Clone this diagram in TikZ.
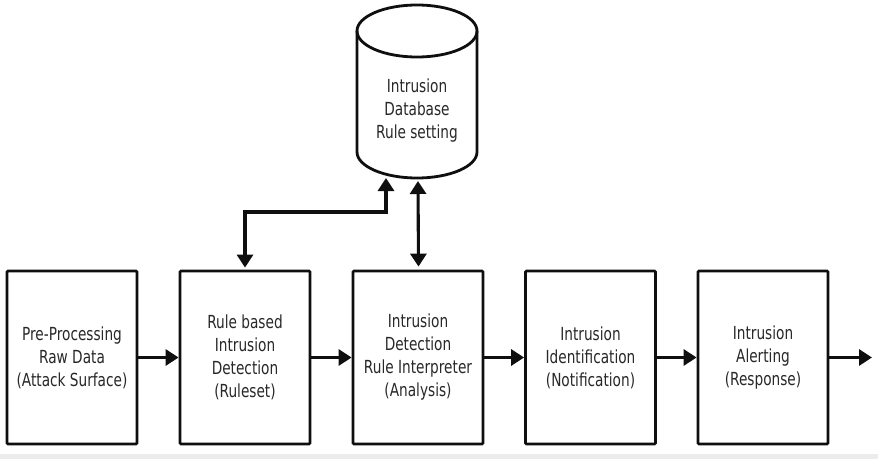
\documentclass[tikz,border=0pt]{standalone}
\usepackage{fontspec}
\setmainfont{DejaVu Sans}[FakeStretch=0.76]
\usetikzlibrary{arrows.meta}
\definecolor{inkline}{RGB}{15,15,15}
\definecolor{inktext}{RGB}{40,40,40}
\definecolor{footband}{RGB}{236,236,236}
\tikzset{
  stage/.style={draw=inkline, line width=2.8pt, rounded corners=1pt,
    minimum width=130pt, minimum height=173pt, inner sep=0pt,
    align=center, text=inktext, font={\fontsize{18}{23}\selectfont}},
  flow/.style={draw=inkline, line width=3.1pt,
    -{Triangle[length=13pt,width=16pt]}},
  dflow/.style={draw=inkline, line width=3.1pt,
    {Triangle[length=13pt,width=16pt]}-{Triangle[length=13pt,width=16pt]}},
  dbtext/.style={align=center, text=inktext, font={\fontsize{18}{23}\selectfont}}
}
\begin{document}
\begin{tikzpicture}[x=1pt,y=1pt]
  \useasboundingbox (0,0) rectangle (878,459);
  \fill[white] (0,0) rectangle (878,459);
  % thin grey band along the lower edge
  \fill[footband] (0,0) rectangle (878,5);

  % processing stages
  \node[stage] (pre) at (72,101.5) {Pre-Processing\\Raw Data\\(Attack Surface)};
  \node[stage] (rule) at (245,101.5) {Rule based\\Intrusion\\Detection\\(Ruleset)};
  \node[stage] (interp) at (418,101.5) {Intrusion\\Detection\\Rule Interpreter\\(Analysis)};
  \node[stage] (ident) at (590.5,101.5) {Intrusion\\Identification\\(Notification)};
  \node[stage] (alert) at (763,101.5) {Intrusion\\Alerting\\(Response)};
  \coordinate (out) at (872,101.5);

  % database cylinder
  \draw[draw=inkline, line width=2.8pt, fill=white]
    (357,428) -- (357,307) arc[start angle=180, end angle=360, x radius=60pt, y radius=26pt]
    -- (477,428);
  \draw[draw=inkline, line width=2.8pt] (417,428) ellipse [x radius=60pt, y radius=26pt];
  \node[dbtext] (db) at (417,348.5) {Intrusion\\Database\\Rule setting};
  \coordinate (dbL) at (386,281);
  \coordinate (dbC) at (418,278);

  % main flow
  \draw[flow] (pre.east) -- (rule.west);
  \draw[flow] (rule.east) -- (interp.west);
  \draw[flow] (interp.east) -- (ident.west);
  \draw[flow] (ident.east) -- (alert.west);
  \draw[flow] (alert.east) -- (out);

  % links to the database
  \draw[dflow] ([yshift=2pt]rule.north) |- (300,247) -| (dbL);
  \draw[dflow] ([xshift=0.5pt,yshift=3pt]interp.north) -- (dbC);
\end{tikzpicture}
\end{document}
